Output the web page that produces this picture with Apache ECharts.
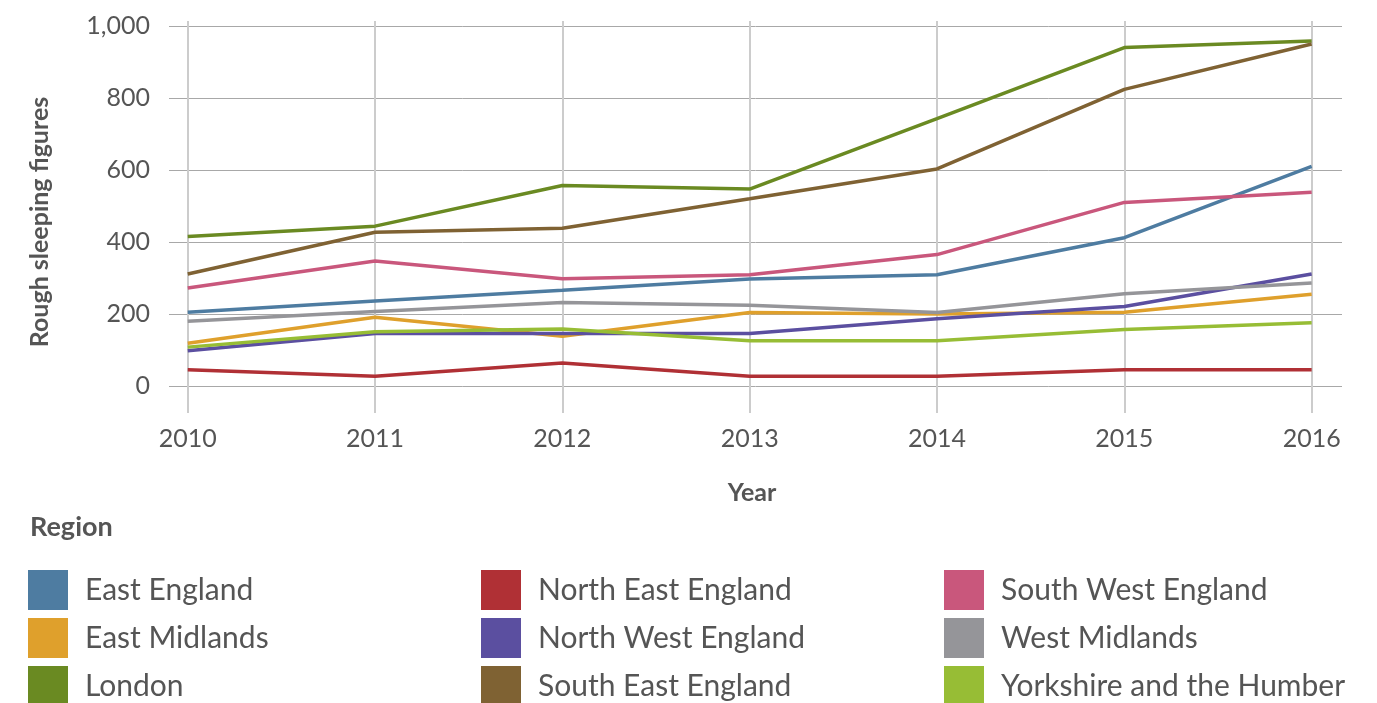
<!DOCTYPE html>
<html>
<head>
<meta charset="utf-8">
<script src="https://cdn.jsdelivr.net/npm/echarts@6/dist/echarts.min.js"></script>
<style>html,body{margin:0;padding:0;background:#fff;}#c{width:1377px;height:703px;}</style>
</head>
<body>
<div id="c"></div>
<script>
const years = [2010, 2011, 2012, 2013, 2014, 2015, 2016];
const yTicks = [0, 200, 400, 600, 800, 1000];
const eastEngland = [205, 236, 266, 297, 309, 412, 610];
const eastMidlands = [119, 191, 138, 204, 200, 205, 255];
const london = [415, 444, 557, 547, 743, 940, 958];
const northEast = [45, 27, 64, 27, 27, 45, 45];
const northWest = [98, 146, 146, 146, 187, 221, 311];
const southEast = [311, 427, 438, 520, 603, 824, 950];
const southWest = [272, 347, 298, 309, 365, 510, 538];
const westMidlands = [180, 207, 232, 224, 204, 256, 286];
const yorkshire = [108, 151, 158, 126, 126, 157, 176];

const seriesDefs = [
  ['East England', eastEngland, '#4e7ca1'],
  ['East Midlands', eastMidlands, '#dfa02c'],
  ['London', london, '#6a8a22'],
  ['North East England', northEast, '#b03035'],
  ['North West England', northWest, '#5b4fa0'],
  ['South East England', southEast, '#7f6233'],
  ['South West England', southWest, '#c9577c'],
  ['West Midlands', westMidlands, '#959599'],
  ['Yorkshire and the Humber', yorkshire, '#97bd35']
];

const FONT = 'Lato';
const chart = echarts.init(document.getElementById('c'));

const legendBase = {
  orient: 'vertical', icon: 'rect', itemWidth: 40, itemHeight: 40, itemGap: 8,
  top: 570, height: 160, padding: 0, selectedMode: false,
  textStyle: { fontFamily: FONT, fontSize: 30, color: '#555', padding: [0, 0, 0, 12] }
};

chart.setOption({
  animation: false,
  color: seriesDefs.map(d => d[2]),
  grid: [
    { left: 169, right: 35, top: 26, bottom: 317 },
    { left: 187.7, right: 65.3, top: 21, bottom: 290 }
  ],
  xAxis: [
    { type: 'value', gridIndex: 0, min: 2009.9, max: 2016.162, show: false },
    { type: 'value', gridIndex: 1, min: years[0], max: years[years.length - 1], interval: 1,
      axisLine: { show: false }, axisTick: { show: false },
      axisLabel: { fontFamily: FONT, fontSize: 25, color: '#555', margin: 13, formatter: v => String(v) },
      splitLine: { show: true, lineStyle: { color: '#cccccc', width: 2 } } }
  ],
  yAxis: [
    { type: 'value', gridIndex: 0, min: yTicks[0], max: yTicks[yTicks.length - 1], interval: 200,
      axisLine: { show: false }, axisTick: { show: false },
      axisLabel: { fontFamily: FONT, fontSize: 25, color: '#555', margin: 19 },
      splitLine: { show: true, lineStyle: { color: '#a8a8a8', width: 1 } } },
    { type: 'value', gridIndex: 1, min: 0, max: 1, show: false }
  ],
  legend: [
    Object.assign({}, legendBase, { left: 28, data: seriesDefs.slice(0, 3).map(d => d[0]) }),
    Object.assign({}, legendBase, { left: 481, data: seriesDefs.slice(3, 6).map(d => d[0]) }),
    Object.assign({}, legendBase, { left: 944, data: seriesDefs.slice(6, 9).map(d => d[0]) })
  ],
  graphic: [
    { type: 'text', x: 40, y: 222, rotation: Math.PI / 2,
      style: { text: 'Rough sleeping figures', fontFamily: FONT, fontWeight: 'bold', fontSize: 25, fill: '#555', align: 'center', verticalAlign: 'middle' } },
    { type: 'text', x: 752, y: 493,
      style: { text: 'Year', fontFamily: FONT, fontWeight: 'bold', fontSize: 25, fill: '#555', align: 'center', verticalAlign: 'middle' } },
    { type: 'text', x: 30, y: 527,
      style: { text: 'Region', fontFamily: FONT, fontWeight: 'bold', fontSize: 27, fill: '#555', align: 'left', verticalAlign: 'middle' } }
  ],
  series: seriesDefs.map(d => ({
    name: d[0], type: 'line', xAxisIndex: 0, yAxisIndex: 0,
    symbol: 'none', lineStyle: { width: 3.5, color: d[2] }, itemStyle: { color: d[2] },
    data: years.map((y, i) => [y, d[1][i]])
  }))
});
</script>
</body>
</html>
